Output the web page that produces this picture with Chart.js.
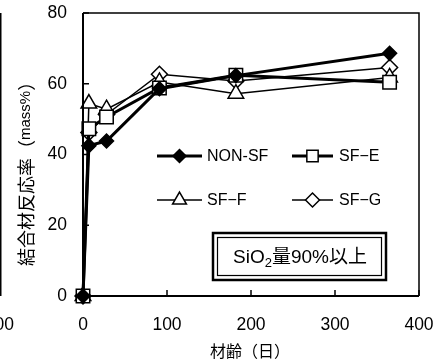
<!DOCTYPE html>
<html>
<head>
<meta charset="utf-8">
<script src="https://cdn.jsdelivr.net/npm/chart.js@4"></script>
<style>
  html, body { margin: 0; padding: 0; background: #fff; }
  #wrap { width: 443px; height: 362px; }
</style>
</head>
<body>
<div id="wrap"><canvas id="myChart" width="443" height="362"></canvas></div>
<script>
// age in days
const days = [0, 7, 28, 91, 182, 365];
// binder reaction rate (mass%)
const nonSF = [0, 42.5, 43.8, 58.6, 62.3, 68.6];
const sfE = [0, 47.3, 50.6, 58.8, 62.4, 60.4];
const sfF = [0, 54.4, 52.8, 60.5, 57.2, 61.8];
const sfG = [0, 46.2, 51.3, 62.7, 60.8, 64.6];
const seriesNames = ["NON-SF", "SF\u2212E", "SF\u2212F", "SF\u2212G"];
const xTicks = [0, 100, 200, 300, 400];
const yTicks = [0, 20, 40, 60, 80];

const latin = '"Liberation Sans", "Noto Sans CJK JP", sans-serif';
const cjk = '"Noto Sans CJK JP", sans-serif';

function pts(ys) {
  return days.map((d, i) => ({x: d, y: ys[i]}));
}

function series(label, ys, style, radius, filled, width) {
  return {
    label: label,
    data: pts(ys),
    borderColor: "#000",
    borderWidth: width,
    tension: 0,
    pointStyle: style,
    pointRadius: radius,
    pointBackgroundColor: filled ? "#000" : "#fff",
    pointBorderColor: "#000",
    pointBorderWidth: 1.5
  };
}

// frame, inward ticks, legend, note box and titles
const decor = {
  id: "decor",
  beforeDraw(chart) {
    const c = chart.ctx;
    c.save();
    c.fillStyle = "#fff";
    c.fillRect(0, 0, chart.width, chart.height);
    c.restore();
  },
  afterDatasetsDraw(chart) {
    const c = chart.ctx;
    const a = chart.chartArea;
    const xs = chart.scales.x, ys = chart.scales.y;
    c.save();
    c.strokeStyle = "#000";

    // thin top/right frame
    c.lineWidth = 1.5;
    c.beginPath();
    c.moveTo(a.left, a.top); c.lineTo(a.right, a.top); c.lineTo(a.right, a.bottom);
    c.stroke();
    // axes
    c.lineWidth = 2;
    c.beginPath();
    c.moveTo(a.left, a.top); c.lineTo(a.left, a.bottom); c.lineTo(a.right, a.bottom);
    c.stroke();

    // inward ticks
    c.lineWidth = 1.5;
    c.beginPath();
    yTicks.forEach(v => {
      const p = ys.getPixelForValue(v);
      c.moveTo(a.left, p); c.lineTo(a.left + 6, p);
    });
    xTicks.forEach(v => {
      const p = xs.getPixelForValue(v);
      c.moveTo(p, a.bottom); c.lineTo(p, a.bottom - 6);
    });
    c.stroke();

    // legend
    const items = [
      [157, 202, 156, 0, 6.5, 207],
      [292, 333, 156, 1, 8, 339],
      [157, 202, 200, 2, 8, 207],
      [292, 333, 200, 3, 7, 339]
    ];
    items.forEach(([x1, x2, y, i, r, tx]) => {
      const ds = chart.data.datasets[i];
      c.strokeStyle = "#000";
      c.lineWidth = ds.borderWidth;
      c.beginPath();
      c.moveTo(x1, y); c.lineTo(x2, y);
      c.stroke();
      c.fillStyle = ds.pointBackgroundColor;
      c.lineWidth = 1.5;
      Chart.helpers.drawPoint(c, {pointStyle: ds.pointStyle, radius: r, rotation: 0, borderWidth: 1.5}, (x1 + x2) / 2, y);
      c.fillStyle = "#000";
      c.font = "16px " + latin;
      c.textAlign = "left";
      c.textBaseline = "middle";
      c.fillText(ds.label, tx, y + 1);
    });

    // note box with double border
    c.fillStyle = "#fff";
    c.fillRect(213, 233, 173, 47);
    c.strokeStyle = "#000";
    c.lineWidth = 2.5;
    c.strokeRect(213, 233, 173, 47);
    c.lineWidth = 1.2;
    c.strokeRect(217.5, 237.5, 164, 38);
    const parts = [["SiO", "19px " + latin, 0], ["2", "13px " + latin, 4], ["量90%以上", "19px " + latin, 0]];
    let w = 0;
    parts.forEach(p => { c.font = p[1]; w += c.measureText(p[0]).width; });
    let x = 300 - w / 2;
    c.fillStyle = "#000";
    c.textAlign = "left";
    c.textBaseline = "alphabetic";
    parts.forEach(p => {
      c.font = p[1];
      c.fillText(p[0], x, 263 + p[2]);
      x += c.measureText(p[0]).width;
    });

    // x title
    c.font = "16px " + cjk;
    c.textAlign = "center";
    c.textBaseline = "middle";
    c.fillText("材齢（日）", 250, 351);

    // y title, rotated
    c.save();
    c.translate(26, 266);
    c.rotate(-Math.PI / 2);
    c.textAlign = "left";
    c.textBaseline = "middle";
    let tx = 0;
    [["結合材反応率（", "18px " + cjk], ["mass%", "15px " + latin], ["）", "18px " + cjk]].forEach(p => {
      c.font = p[1];
      c.fillText(p[0], tx, 0);
      tx += c.measureText(p[0]).width;
    });
    c.restore();

    // edge of the neighbouring chart on the left
    c.strokeStyle = "#000";
    c.lineWidth = 2;
    c.beginPath();
    c.moveTo(0.5, a.top); c.lineTo(0.5, a.bottom);
    c.stroke();
    c.font = "17.5px " + latin;
    c.textAlign = "right";
    c.textBaseline = "middle";
    c.fillText("400", 14, 325);
    c.restore();
  }
};

new Chart("myChart", {
  type: "line",
  data: {
    datasets: [
      series(seriesNames[0], nonSF, "rectRot", 7, true, 3),
      series(seriesNames[1], sfE, "rect", 9.5, false, 3),
      series(seriesNames[2], sfF, "triangle", 9, false, 1.5),
      series(seriesNames[3], sfG, "rectRot", 8, false, 1.5)
    ]
  },
  options: {
    responsive: false,
    animation: false,
    clip: false,
    layout: { autoPadding: false, padding: { top: 13, right: 24, left: 0, bottom: 0 } },
    plugins: { legend: { display: false }, tooltip: { enabled: false } },
    scales: {
      x: {
        type: "linear",
        min: 0,
        max: 400,
        afterBuildTicks: s => { s.ticks = xTicks.map(v => ({value: v})); },
        afterFit: s => { s.height = 66; s.paddingLeft = 0; s.paddingRight = 0; },
        ticks: { color: "#000", font: { size: 17.5, family: latin }, padding: 19, maxRotation: 0 },
        grid: { display: false, drawTicks: false },
        border: { display: false }
      },
      y: {
        min: 0,
        max: 80,
        afterBuildTicks: s => { s.ticks = yTicks.map(v => ({value: v})); },
        afterFit: s => { s.width = 83; s.paddingTop = 0; s.paddingBottom = 0; },
        ticks: { color: "#000", font: { size: 17.5, family: latin }, padding: 16 },
        grid: { display: false, drawTicks: false },
        border: { display: false }
      }
    }
  },
  plugins: [decor]
});
</script>
</body>
</html>
